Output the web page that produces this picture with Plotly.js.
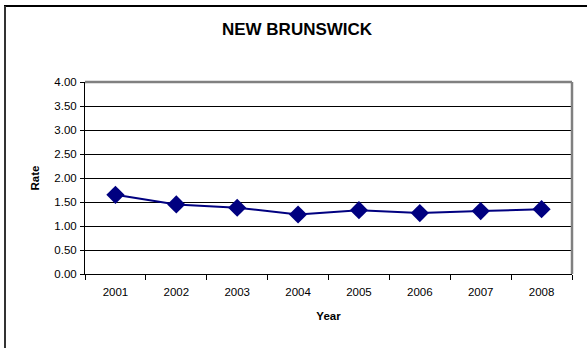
<!DOCTYPE html>
<html>
<head>
<meta charset="utf-8">
<script src="https://cdn.plot.ly/plotly-3.0.1.min.js"></script>
<style>
  html, body { margin: 0; padding: 0; background: #fff; }
  #chart { width: 587px; height: 348px; }
</style>
</head>
<body>
<div id="chart"></div>
<script>
var years = ["2001", "2002", "2003", "2004", "2005", "2006", "2007", "2008"];
var rates = [1.65, 1.45, 1.38, 1.24, 1.33, 1.27, 1.31, 1.35];
var yTicks = [0, 0.5, 1, 1.5, 2, 2.5, 3, 3.5, 4];
var yTickLabels = ["0.00", "0.50", "1.00", "1.50", "2.00", "2.50", "3.00", "3.50", "4.00"];

var FONT = "Liberation Sans, Arial, sans-serif";
var L = 85, R = 15, T = 82, B = 74, W = 587, H = 348;
var pw = W - L - R, ph = H - T - B;
function px(x) { return (x - L) / pw; }
function py(y) { return (H - B - y) / ph; }

var trace = {
  x: years,
  y: rates,
  type: "scatter",
  mode: "lines+markers",
  line: { color: "#000080", width: 2 },
  marker: { symbol: "diamond", size: 14, color: "#000080" },
  hoverinfo: "x+y"
};

var layout = {
  width: W, height: H,
  margin: { l: L, r: R, t: T, b: B, pad: 0 },
  paper_bgcolor: "#ffffff",
  plot_bgcolor: "#ffffff",
  showlegend: false,
  font: { family: FONT, size: 11.5, color: "#000" },
  title: {
    text: "<b>NEW BRUNSWICK</b>",
    font: { family: FONT, size: 17, color: "#000" },
    x: 0.506, xanchor: "center",
    y: 1 - 29 / H, yanchor: "middle"
  },
  xaxis: {
    type: "category",
    range: [-0.5, 7.5],
    showgrid: false,
    zeroline: false,
    showline: true, linecolor: "#000", linewidth: 1,
    ticks: "outside", tickson: "boundaries", ticklen: 5, tickcolor: "#000", tickwidth: 1,
    ticklabelstandoff: 7,
    tickfont: { family: FONT, size: 11.5, color: "#000" },
    title: { text: "<b>Year</b>", font: { family: FONT, size: 11.5, color: "#000" }, standoff: 15 },
    fixedrange: true
  },
  yaxis: {
    range: [0, 4],
    tickvals: yTicks,
    ticktext: yTickLabels,
    showgrid: true, gridcolor: "#000", gridwidth: 1,
    zeroline: false,
    showline: true, linecolor: "#000", linewidth: 1,
    ticks: "outside", ticklen: 4, tickcolor: "#000", tickwidth: 1,
    ticklabelstandoff: 1,
    tickfont: { family: FONT, size: 11.5, color: "#000" },
    title: { text: "<b>Rate</b>", font: { family: FONT, size: 11.5, color: "#000" }, standoff: 12 },
    fixedrange: true
  },
  shapes: [
    { type: "line", xref: "paper", yref: "paper", x0: 0, x1: 1, y0: 1, y1: 1,
      line: { color: "#808080", width: 2.5 } },
    { type: "line", xref: "paper", yref: "paper", x0: 1, x1: 1, y0: 0, y1: 1,
      line: { color: "#808080", width: 2.5 } },
    { type: "line", xref: "paper", yref: "paper", x0: px(4), x1: px(600), y0: py(6), y1: py(6),
      line: { color: "#000", width: 2 } },
    { type: "line", xref: "paper", yref: "paper", x0: px(5), x1: px(5), y0: py(6), y1: py(360),
      line: { color: "#333", width: 2 } }
  ]
};

Plotly.newPlot("chart", [trace], layout, { displayModeBar: false, staticPlot: true });
</script>
</body>
</html>
